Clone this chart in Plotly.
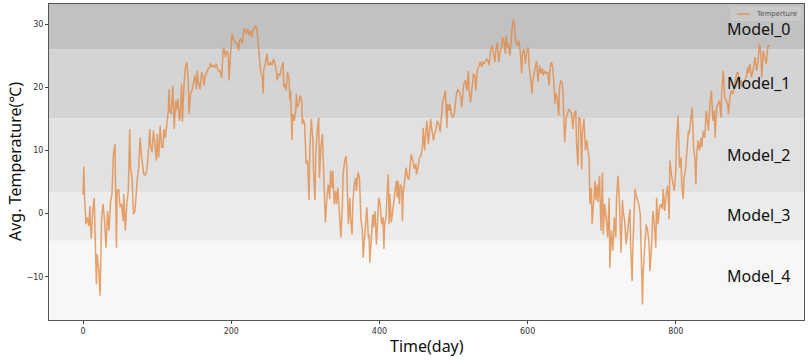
import plotly.graph_objects as go

# ---- data ----
days = [0, 1, 2, 4, 6, 8, 9, 11, 13, 15, 18, 19, 21, 23, 25, 27, 29, 31, 33, 35, 37, 39, 41, 43, 45, 46, 48, 50, 52, 54, 55, 57, 59, 61, 63, 64, 66, 68, 70, 72, 73, 75, 77, 79, 81, 82, 84, 86, 88, 90, 91, 93, 95, 97, 99, 100, 102, 104, 106, 108, 109, 111, 113, 115, 116, 117, 119, 121, 123, 125, 126, 128, 130,
        131, 133, 134, 136, 138, 140, 142, 143, 145, 147, 149, 151, 153, 154, 156, 158, 160, 162, 163, 165, 167, 169, 171, 172, 174, 176, 178, 180, 181, 183, 185, 187, 189, 190, 192, 194, 196, 197, 199, 201, 202, 204, 206, 208, 210, 211, 213, 215, 217, 219, 220, 222, 224, 226, 228, 229, 231, 233, 235, 236, 238, 239, 240, 242, 243, 244, 246, 248, 250, 252, 253, 255, 257, 259, 261, 262, 264, 266,
        268, 270, 271, 272, 274, 276, 278, 279, 280, 282, 283, 285, 287, 288, 289, 291, 293, 295, 296, 297, 299, 301, 303, 305, 306, 308, 310, 311, 313, 314, 316, 318, 319, 321, 323, 324, 326, 327, 329, 331, 333, 334, 336, 337, 339, 341, 342, 344, 346, 348, 350, 351, 353, 355, 356, 358, 360, 361, 363, 364, 366, 368, 369, 371, 373, 374, 375, 377, 378, 380, 382, 383, 385, 386, 387, 389, 391, 392, 394, 396, 397, 399, 401,
        403, 405, 406, 407, 409, 410, 412, 413, 414, 416, 417, 419, 421, 423, 424, 425, 427, 428, 430, 431, 432, 434, 436, 438, 440, 441, 443, 445, 447, 449, 450, 452, 454, 456, 458, 459, 461, 462, 464, 466, 468, 469, 471, 473, 475, 476, 478, 480, 482, 484, 485, 487, 489, 491, 492, 494, 495, 497, 499, 501, 503, 504, 506, 508, 510, 511, 513, 514, 516, 518, 520, 521, 523, 525, 527, 529, 530, 532, 534, 536,
        538, 539, 541, 543, 545, 547, 548, 550, 552, 554, 556, 557, 559, 561, 563, 565, 566, 568, 570, 571, 573, 574, 576, 578, 579, 581, 583, 584, 586, 588, 590, 592, 593, 595, 597, 599, 601, 602, 604, 606, 607, 609, 611, 612, 614, 616, 618, 620, 621, 623, 625, 627, 629, 630, 632, 634, 636, 637, 638, 640, 642, 643, 645, 647, 648, 650, 652, 654, 656, 657, 659, 661, 663, 665, 666, 668, 669, 671,
        673, 674, 676, 678, 680, 682, 683, 684, 686, 687, 689, 691, 692, 694, 695, 697, 699, 701, 702, 704, 706, 708, 710, 711, 713, 715, 717, 719, 720, 722, 724, 726, 728, 729, 731, 733, 735, 737, 738, 739, 741, 742, 744, 745, 746, 748, 750, 752, 754, 755, 756, 758, 760, 762, 764, 765, 767, 769, 771, 773, 774, 776, 778, 780, 782, 783, 785, 787, 789, 791, 792, 794, 796, 798, 800, 801, 803,
        805, 807, 808, 810, 811, 813, 815, 817, 818, 820, 822, 824, 826, 827, 828, 830, 832, 834, 835, 837, 839, 841, 843, 844, 846, 848, 850, 852, 853, 855, 857, 859, 861, 862, 864, 866, 868, 870, 871, 873, 875, 877, 879, 880, 882, 884, 886, 888, 889, 891, 893, 895, 897, 898, 900, 902, 904, 905, 907, 909, 911, 913, 915, 916, 918, 920, 922, 924, 925, 927]

temps = [3.0, 7.4, 2.5, -1.7, -0.6, -2.0, 1.2, -4.0, 0.4, 2.5, -11.2, -6.4, -8.6, -13.0, -0.6, 1.5, -1.2, -5.4, 0.4, -2.7, 1.8, 3.1, 9.4, 11.0, -5.4, 3.6, 3.9, 1.0, 1.5, -1.2, 3.1, -2.7, 1.5, 3.6, 13.4, 7.3, 5.7, -0.1, 0.4, 4.6, 5.2, 7.3, 12.0, 8.9, 6.2, 6.2, 6.1, 6.8, 9.4, 13.4, 11.0, 9.7, 13.1, 10.0, 8.4, 12.6, 8.9, 13.9, 10.5, 10.5, 13.4, 12.0, 14.7, 16.3, 19.7, 16.3, 15.8, 20.3, 13.4, 17.9, 16.3, 18.2, 14.7,
         15.3, 20.6, 14.5, 20.0, 23.2, 24.0, 21.1, 15.8, 19.0, 19.5, 20.6, 21.9, 19.7, 22.6, 20.6, 19.7, 22.4, 21.5, 20.3, 21.9, 22.4, 23.0, 23.2, 23.8, 23.2, 23.5, 23.2, 23.7, 23.1, 22.6, 22.6, 21.5, 25.8, 26.3, 24.8, 25.8, 25.3, 21.1, 25.3, 28.5, 27.9, 27.4, 27.0, 26.9, 25.8, 27.4, 27.7, 26.9, 29.3, 29.0, 28.5, 29.3, 28.2, 29.0, 27.9, 29.0, 29.3, 29.8, 29.0, 27.4, 23.7, 23.2, 22.4, 21.5, 19.0, 23.0, 23.7, 25.3, 23.5, 23.7, 24.0, 23.5, 24.5, 23.7, 22.4, 21.1, 22.2, 21.9,
         23.2, 24.0, 20.0, 20.6, 19.5, 22.4, 21.3, 17.9, 19.5, 11.6, 15.8, 14.7, 16.3, 19.0, 16.8, 17.4, 18.7, 17.9, 14.2, 15.0, 14.2, 7.9, 8.4, 2.1, 10.0, 15.0, 12.0, 6.8, 2.1, 9.4, 13.1, 15.2, 5.7, 10.5, 12.6, 8.9, 3.6, -1.4, 2.5, 4.6, 2.3, 6.8, 4.1, 6.8, 1.5, 3.6, 1.5, 4.1, -0.1, -3.8, 1.5, 6.2, 8.4, 9.1, 6.8, -1.7, 2.5, -0.6, -3.3, 1.5, 4.6, 5.7, 3.6, 6.5, 5.7, 1.5, -0.9, -2.7, -7.0, -3.8, -0.6, 1.0, -3.8, -3.3, -7.8, -3.8, -0.1, -2.2, 0.4, -4.9, -1.2, 2.5, 1.5,
         -1.7, -0.6, -5.6, -1.7, -0.6, 2.5, 6.2, -1.7, 3.1, -1.4, -0.6, 1.5, 3.6, 5.2, 2.5, 5.2, 1.5, 4.6, 4.1, -1.2, 3.1, 5.7, 7.3, 5.7, 5.4, 7.3, 9.4, 8.4, 7.1, 7.9, 6.2, 7.3, 8.9, 9.1, 10.5, 13.6, 10.0, 12.0, 14.7, 11.0, 13.1, 15.0, 13.1, 11.6, 12.9, 13.1, 14.7, 14.2, 12.9, 16.3, 17.4, 18.4, 19.5, 13.6, 17.4, 16.3, 17.4, 15.8, 15.2, 15.8, 17.9, 19.0, 19.7, 19.2, 18.4, 16.8, 19.5, 20.6, 21.1, 19.5, 22.6, 19.5, 17.6, 20.6, 22.2, 21.6, 19.5, 22.6, 23.5, 24.0,
         23.2, 24.0, 23.7, 24.2, 24.5, 24.0, 23.5, 25.8, 26.6, 25.3, 24.0, 25.8, 27.1, 24.0, 25.8, 26.3, 27.9, 27.4, 25.3, 28.2, 26.3, 26.9, 25.0, 27.7, 29.5, 30.8, 29.0, 27.4, 26.6, 27.4, 25.8, 22.2, 25.3, 26.1, 23.7, 25.8, 26.3, 23.5, 21.3, 19.0, 21.1, 22.6, 23.7, 24.2, 20.9, 23.5, 22.2, 23.0, 21.9, 22.6, 22.2, 22.4, 20.3, 22.6, 24.0, 23.2, 19.5, 17.4, 19.0, 18.4, 15.5, 20.0, 21.1, 20.6, 17.9, 11.3, 15.2, 16.0, 16.6, 16.3, 16.0, 13.4, 15.8, 16.3, 11.0, 7.6, 15.2, 15.0,
         7.0, 13.1, 15.0, 10.0, 11.6, 9.4, 8.9, 1.5, 4.1, -1.7, 1.5, 5.2, 2.1, 4.6, 1.8, 6.0, -2.7, 6.5, -3.3, 1.5, -0.6, -3.8, 2.5, -8.6, -2.7, -5.9, -0.6, -3.8, 2.5, 6.0, 1.5, -6.2, 2.1, 0.4, -1.2, -4.9, -2.7, -0.6, 0.7, -4.9, -10.7, -5.4, 1.5, 3.9, 3.1, 2.1, 1.5, -0.1, -13.3, -14.4, -9.1, -5.9, -1.7, -2.7, -4.9, -9.1, -5.9, 0.4, -1.7, -5.4, 2.5, -1.7, 1.0, 1.5, 0.7, 3.9, 0.4, 3.1, 4.4, -0.9, 8.4, 6.2, 4.6, 3.6, 6.8, 11.6, 15.5,
         7.3, 8.9, 4.6, 2.3, 5.7, 6.8, 10.0, 13.1, 12.6, 15.2, 16.8, 10.5, 8.4, 4.6, 8.9, 11.6, 10.0, 12.0, 10.5, 13.1, 12.0, 16.3, 14.7, 13.1, 17.4, 19.5, 14.7, 16.3, 12.0, 16.8, 17.4, 17.9, 15.2, 19.5, 22.6, 18.4, 17.9, 17.4, 15.8, 18.4, 19.5, 19.0, 20.0, 21.1, 22.2, 22.4, 20.6, 21.1, 20.0, 20.6, 21.1, 21.6, 23.2, 22.2, 23.7, 21.6, 22.6, 23.2, 24.8, 22.6, 24.2, 26.9, 24.8, 21.6, 25.8, 24.8, 23.7, 26.3, 26.6, 26.5]

series_name = "Temperture"
band_names = ["Model_0", "Model_1", "Model_2", "Model_3", "Model_4"]
band_upper = [33.2, 26.0, 15.1, 3.35, -4.3]
band_lower = [26.0, 15.1, 3.35, -4.3, -16.86]
band_label_y = [29.3, 20.7, 9.3, -0.2, -9.9]
band_colors = ["#c1c1c1", "#d4d4d4", "#e1e1e1", "#ececec", "#f7f7f7"]
label_day = 912

x_ticks = [0, 200, 400, 600, 800]
y_ticks = [-10, 0, 10, 20, 30]
x_range = [-46, 973]
y_range = [-16.86, 33.2]

line_color = "rgba(226,134,62,0.75)"

fig = go.Figure()

shapes = []
for lo, hi, col in zip(band_lower, band_upper, band_colors):
    shapes.append(dict(type="rect", xref="paper", yref="y", x0=0, x1=1, y0=lo, y1=hi,
                       fillcolor=col, line=dict(width=0), layer="below"))

fig.add_trace(go.Scatter(x=days, y=temps, mode="lines", name=series_name,
                         line=dict(color=line_color, width=1.5), showlegend=False))

# small legend box (top right), drawn in paper coordinates
shapes.append(dict(type="rect", xref="paper", yref="paper", x0=0.9046, x1=0.9947, y0=0.9494, y1=0.9873,
                   fillcolor="rgba(255,255,255,0.12)", line=dict(color="#d0d0d0", width=1), layer="above"))
shapes.append(dict(type="line", xref="paper", yref="paper", x0=0.9115, x1=0.9285, y0=0.9684, y1=0.9684,
                   line=dict(color=line_color, width=1.5), layer="above"))

annotations = []
annotations.append(dict(x=0.934, y=0.9684, xref="paper", yref="paper", text=series_name, showarrow=False,
                        xanchor="left", yanchor="middle",
                        font=dict(family="DejaVu Sans", size=7, color="#555555")))

for name, yv in zip(band_names, band_label_y):
    annotations.append(dict(x=label_day, y=yv, xref="x", yref="y", text=name, showarrow=False,
                            xanchor="center", yanchor="middle",
                            font=dict(family="Noto Sans", size=16, color="#111111")))

annotations.append(dict(x=-0.045, y=0.5, xref="paper", yref="paper", text="Avg. Temperature(℃)",
                        textangle=-90, showarrow=False, xanchor="center", yanchor="middle",
                        font=dict(family="Noto Sans", size=16, color="#111111")))
annotations.append(dict(x=0.5, y=-0.082, xref="paper", yref="paper", text="Time(day)",
                        showarrow=False, xanchor="center", yanchor="middle",
                        font=dict(family="Noto Sans", size=16, color="#111111")))

fig.update_layout(
    width=808, height=364,
    margin=dict(l=49, r=4, t=4, b=44),
    paper_bgcolor="white", plot_bgcolor="white",
    shapes=shapes, annotations=annotations,
    showlegend=False,
    xaxis=dict(range=x_range, tickvals=x_ticks, ticktext=[str(v) for v in x_ticks],
               showgrid=False, zeroline=False, showline=True, mirror=True,
               linecolor="#555555", linewidth=1, ticks="outside", ticklen=3, tickcolor="#444444",
               tickfont=dict(family="DejaVu Sans", size=8, color="#333333")),
    yaxis=dict(range=y_range, tickvals=y_ticks, ticktext=["\u221210", "0", "10", "20", "30"],
               showgrid=False, zeroline=False, showline=True, mirror=True,
               linecolor="#555555", linewidth=1, ticks="outside", ticklen=3, tickcolor="#444444",
               tickfont=dict(family="DejaVu Sans", size=8, color="#333333")),
)

fig.write_html("out.html", config={"displayModeBar": False},
               post_script="document.body.style.margin='0';document.body.style.overflow='hidden';")
